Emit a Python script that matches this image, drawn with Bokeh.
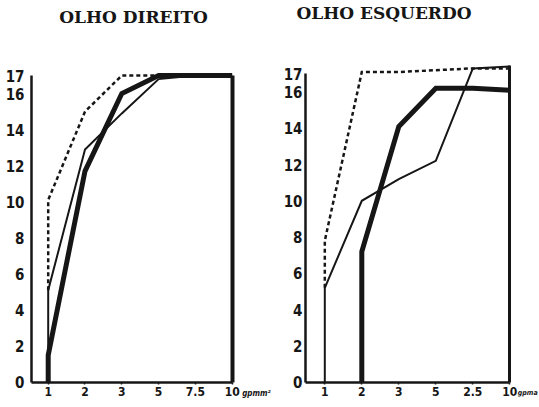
from bokeh.plotting import figure
from bokeh.layouts import row
from bokeh.models import FixedTicker, LinearAxis, Range1d, Label
from bokeh.embed import file_html
from bokeh.resources import INLINE

# stimulus levels (equally spaced on the axis)
levels = [1, 2, 3, 5, 7.5, 10]
left_tick_labels = ["1", "2", "3", "5", "7.5", "10"]
right_tick_labels = ["1", "2", "3", "5", "2.5", "10"]
left_unit = "gpmm²"
right_unit = "gpma"
y_ticks = [0, 2, 4, 6, 8, 10, 12, 14, 16, 17]

# OLHO DIREITO
od_dash_x = [1, 1, 2, 3, 5, 7.5, 10]
od_dash_y = [5.1, 10.1, 15.0, 17.0, 17.0, 17.0, 17.0]
od_thin_x = [1, 1, 2, 3, 5, 7.5, 10]
od_thin_y = [0, 5.1, 12.9, 14.9, 16.8, 17.0, 17.0]
od_thick_x = [1, 1, 2, 3, 5, 7.5, 10]
od_thick_y = [0, 1.5, 11.7, 16.0, 17.0, 17.0, 17.0]

# OLHO ESQUERDO
oe_dash_x = [1, 1, 2, 3, 5, 7.5, 10]
oe_dash_y = [5.2, 7.8, 17.1, 17.1, 17.2, 17.3, 17.3]
oe_thin_x = [1, 1, 2, 3, 5, 7.5, 10]
oe_thin_y = [0, 5.2, 10.0, 11.2, 12.2, 17.3, 17.4]
oe_thick_x = [2, 2, 3, 5, 7.5, 10]
oe_thick_y = [0, 7.2, 14.1, 16.2, 16.2, 16.1]

INK = "#161616"
TICK_FONT = "'Liberation Sans Narrow', 'DejaVu Sans Condensed', sans-serif"
TITLE_FONT = "'DejaVu Serif', serif"
H = 405


def pos(xs):
    return [levels.index(v) for v in xs]


def make_panel(title, tick_labels, unit, series, width, xr, yr, axis_x, y_top,
               border_top, y_standoff, title_xy, right_w, unit_size, unit_off):
    p = figure(width=width, height=H, output_backend="svg", toolbar_location=None,
               x_range=Range1d(*xr), y_range=Range1d(*yr),
               min_border_left=0, min_border_right=0,
               min_border_top=0, min_border_bottom=0)
    p.outline_line_color = None
    p.grid.visible = False
    p.background_fill_color = "white"
    p.border_fill_color = "white"
    for xs, ys, w, dash in series:
        p.line(pos(xs), ys, line_color=INK, line_width=w, line_dash=dash,
               line_join="miter")
    xa = p.xaxis[0]
    xa.fixed_location = 0
    xa.bounds = (axis_x, len(levels) - 1)
    xa.ticker = FixedTicker(ticks=list(range(len(levels))))
    xa.major_label_overrides = {i: t for i, t in enumerate(tick_labels)}
    ya = p.yaxis[0]
    ya.fixed_location = axis_x
    ya.bounds = (0, y_top)
    ya.ticker = FixedTicker(ticks=y_ticks)
    for ax in (xa, ya):
        ax.axis_line_color = INK
        ax.axis_line_width = 2.5
        ax.major_tick_line_color = INK
        ax.minor_tick_line_color = None
        ax.major_tick_in = 0
        ax.major_label_text_font = TICK_FONT
        ax.major_label_text_font_style = "bold"
        ax.major_label_text_color = INK
    xa.major_tick_out = 2
    xa.major_tick_line_width = 1.5
    xa.major_label_standoff = 3
    xa.major_label_text_font_size = "12px"
    ya.major_tick_out = 0
    ya.major_label_standoff = y_standoff
    ya.major_label_text_font_size = "15px"
    ra = LinearAxis(ticker=FixedTicker(ticks=[]), axis_line_color=INK,
                    axis_line_width=right_w, major_label_text_font_size="0px",
                    major_tick_line_color=None, minor_tick_line_color=None,
                    fixed_location=len(levels) - 1, bounds=(0, border_top))
    p.add_layout(ra, "right")
    p.add_layout(Label(x=len(levels) - 1, y=0, x_offset=unit_off, y_offset=-7, text=unit,
                       text_align="left", text_baseline="top",
                       text_font=TICK_FONT, text_font_style="bold italic",
                       text_font_size=unit_size, text_color=INK))
    p.add_layout(Label(x=title_xy[0], y=title_xy[1], text=title,
                       text_align="center", text_baseline="middle",
                       text_font=TITLE_FONT, text_font_style="bold",
                       text_font_size="17px", text_color=INK))
    return p


left = make_panel("OLHO DIREITO", left_tick_labels, left_unit,
                  [(od_thin_x, od_thin_y, 2, "solid"),
                   (od_thick_x, od_thick_y, 5, "solid"),
                   (od_dash_x, od_dash_y, 2.5, "4 3")],
                  278, (-1.2962, 6.2582), (-1.2916, 21.158), -0.454, 17.0, 17.0,
                  7, (2.318, 20.255), 4, "8px", 10)
right = make_panel("OLHO ESQUERDO", right_tick_labels, right_unit,
                   [(oe_thin_x, oe_thin_y, 2, "solid"),
                    (oe_thick_x, oe_thick_y, 5, "solid"),
                    (oe_dash_x, oe_dash_y, 2.5, "4 3")],
                   261, (-1.2514, 5.8027), (-1.2845, 21.042), -0.5216, 17.0, 17.45,
                   3, (1.6, 20.353), 3, "7px", 8)

layout = row(left, right, spacing=0)
open("out.html", "w").write(file_html(layout, INLINE))
